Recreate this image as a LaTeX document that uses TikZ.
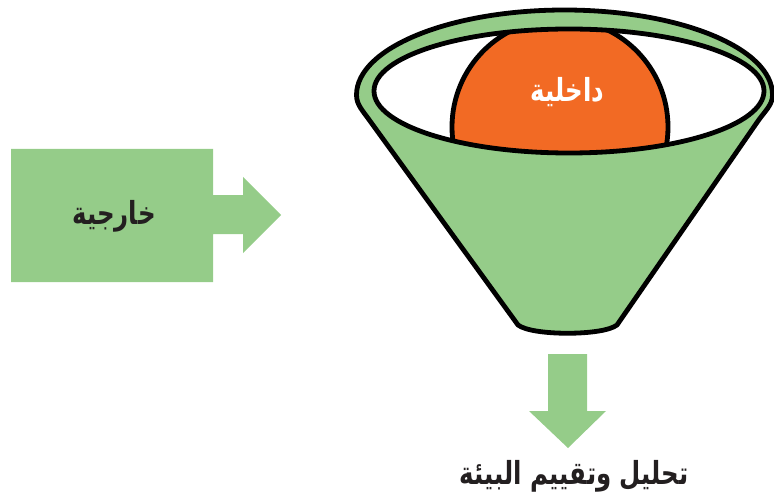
\documentclass[tikz,border=0pt]{standalone}
\usepackage{fontspec}
\TeXXeTstate=1
\newfontfamily\arabicfont[Script=Arabic]{DejaVu Sans}
\definecolor{leaf}{HTML}{95CC89}
\definecolor{ember}{HTML}{F26A24}
\definecolor{ink}{HTML}{231F20}
% tall, slightly widened Arabic label text
\newcommand{\tallar}[1]{\scalebox{1.04}[1.35]{\beginR #1\endR}}
\begin{document}
\begin{tikzpicture}[x=1pt,y=1pt,
  outline/.style={draw=black, line width=4.8pt, line join=round},
  label/.style={font=\arabicfont\bfseries\fontsize{23.5}{28}\selectfont, inner sep=0pt}]
\useasboundingbox (0,0) rectangle (774,491);

% external block with its arrow
\fill[leaf] (11,342) -- (213,342) -- (213,296) -- (243,296) -- (243,314)
  -- (281,276) -- (243,238) -- (243,257) -- (213,257) -- (213,209)
  -- (11,209) -- cycle;
\node[label, text=ink] (outside) at (114,275) {\tallar{خارجية}};

% funnel body: upper rim and cone
\path[fill=leaf, outline] (356.5,396)
  arc[start angle=180, end angle=0, x radius=208pt, y radius=85pt]
  .. controls (772.5,386) and (765,380) .. (758,370)
  -- (617,166) .. controls (603,155) and (532,155) .. (518,166)
  -- (370,370) .. controls (363,380) and (356.5,386) .. cycle;

% opening of the funnel with the inner sphere
\fill[white] (569,400) ellipse[x radius=195pt, y radius=62pt];
\begin{scope}
  \clip (569,400) ellipse[x radius=195pt, y radius=62pt];
  \path[fill=ember, outline] (560,364) circle[radius=108pt];
\end{scope}
\draw[outline] (569,400) ellipse[x radius=195pt, y radius=62pt];
\node[label, text=white] (inside) at (567.5,399) {\tallar{داخلية}};

% output arrow
\fill[leaf] (548,137) -- (587,137) -- (587,80) -- (606,80) -- (568,43)
  -- (529,80) -- (548,80) -- cycle;
\node[label, text=ink] (result) at (574,15) {\tallar{تحليل وتقييم البيئة}};
\end{tikzpicture}
\end{document}
